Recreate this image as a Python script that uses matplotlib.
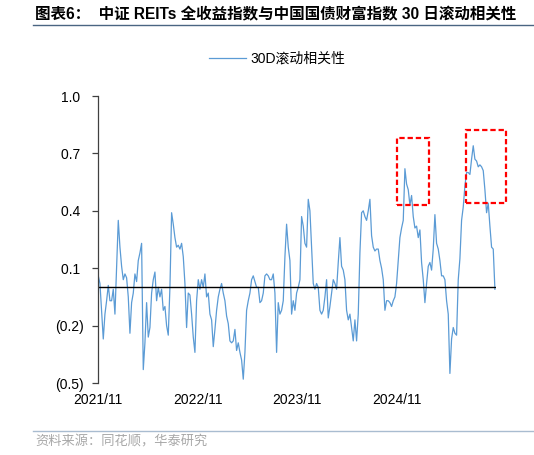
import pandas as pd
import matplotlib.pyplot as plt
import matplotlib.dates as mdates
from matplotlib.patches import Rectangle
from matplotlib.lines import Line2D

plt.rcParams['font.family'] = ['Liberation Sans', 'Noto Sans CJK SC']

# -------------------------
# Data (roughly weekly samples)
# -------------------------
start_date = "2021-11-02"
end_date = "2025-10-24"

corr_30d = [
    0.06, 0.02, -0.13, -0.27, -0.14, -0.07, 0.01, -0.07, -0.07, -0.01,
    -0.14, 0.11, 0.35, 0.21, 0.11, 0.04, 0.07, 0.05, -0.05, -0.24,
    -0.08, -0.03, 0.07, 0.03, 0.14, 0.18, 0.23, -0.43, -0.29, -0.08,
    -0.26, -0.21, -0.03, 0.04, 0.08, -0.07, 0.00, -0.05, -0.01, -0.12,
    -0.10, -0.20, -0.25, 0.00, 0.39, 0.33, 0.26, 0.21, 0.22, 0.20,
    0.23, 0.16, 0.02, -0.21, -0.03, -0.04, -0.14, -0.26, -0.34, -0.07,
    0.04, -0.01, 0.04, 0.00, 0.07, -0.05, -0.03, -0.14, -0.17, -0.31,
    -0.22, -0.12, -0.05, -0.01, 0.02, -0.03, -0.07, -0.15, -0.19, -0.28,
    -0.29, -0.28, -0.22, -0.33, -0.29, -0.34, -0.38, -0.48, -0.34, -0.12,
    -0.07, -0.03, 0.04, 0.06, 0.03, 0.00, 0.00, -0.08, -0.07, -0.03,
    0.06, 0.07, 0.06, 0.04, 0.04, 0.07, -0.03, -0.34, -0.08, -0.14,
    -0.12, -0.07, 0.16, 0.33, 0.21, 0.14, -0.14, -0.07, -0.12, -0.03,
    0.00, 0.04, 0.37, 0.32, 0.23, 0.21, 0.46, 0.40, 0.21, 0.02,
    -0.01, 0.02, 0.00, -0.12, -0.14, -0.12, -0.05, 0.04, -0.16, -0.10,
    -0.03, 0.04, 0.02, -0.01, 0.13, 0.26, 0.11, 0.09, 0.04, -0.12,
    -0.17, -0.14, -0.21, -0.28, -0.17, -0.28, -0.14, 0.18, 0.39, 0.40,
    0.37, 0.35, 0.40, 0.46, 0.27, 0.21, 0.19, 0.20, 0.20, 0.14,
    0.10, 0.04, -0.12, -0.07, -0.07, -0.08, -0.10, -0.07, -0.05, 0.02,
    0.14, 0.26, 0.31, 0.35, 0.62, 0.54, 0.51, 0.43, 0.48, 0.37,
    0.31, 0.32, 0.26, 0.30, 0.13, 0.04, -0.08, 0.02, 0.11, 0.13,
    0.09, 0.20, 0.38, 0.23, 0.20, 0.14, 0.06, 0.06, 0.04, -0.07,
    -0.14, -0.45, -0.27, -0.21, -0.24, -0.25, 0.04, 0.15, 0.35, 0.42,
    0.53, 0.60, 0.60, 0.59, 0.67, 0.74, 0.67, 0.66, 0.63, 0.64,
    0.63, 0.61, 0.51, 0.39, 0.44, 0.32, 0.21, 0.20, -0.01,
]

dates = pd.date_range(start_date, end_date, periods=len(corr_30d))

y_ticks = [-0.5, -0.2, 0.1, 0.4, 0.7, 1.0]
y_labels = ["(0.5)", "(0.2)", "0.1 ", "0.4 ", "0.7 ", "1.0 "]
x_ticks = ["2021-11-01", "2022-11-01", "2023-11-01", "2024-11-01"]
x_labels = ["2021/11", "2022/11", "2023/11", "2024/11"]

# highlighted windows: (start, end, low, high)
boxes = [
    ("2024-10-29", "2025-02-24", 0.43, 0.78),
    ("2025-07-12", "2025-12-03", 0.44, 0.82),
]

# -------------------------
# Plot
# -------------------------
W, H = 534, 455
fig = plt.figure(figsize=(W / 100, H / 100), dpi=100)
ax = fig.add_axes([98 / W, 1 - 383 / H, (496 - 98) / W, (383 - 96) / H])

ax.plot(dates, corr_30d, color="#5B9BD5", lw=0.9, label="30D滚动相关性")
ax.axhline(0, color="black", lw=1.0)

ax.set_ylim(-0.5, 1.0)
ax.set_xlim(pd.Timestamp("2021-11-01"), pd.Timestamp("2025-10-28"))

for s in ["top", "right", "bottom"]:
    ax.spines[s].set_visible(False)
ax.spines["left"].set_color("#404040")
ax.spines["left"].set_linewidth(0.9)

ax.set_yticks(y_ticks)
ax.set_yticklabels(y_labels)
ax.set_xticks(pd.to_datetime(x_ticks))
ax.set_xticklabels(x_labels)
ax.tick_params(axis="y", length=4, width=0.9, color="#404040", pad=6, labelsize=10)
ax.tick_params(axis="x", length=0, pad=7, labelsize=10)

for b0, b1, lo, hi in boxes:
    x0 = mdates.date2num(pd.Timestamp(b0))
    x1 = mdates.date2num(pd.Timestamp(b1))
    ax.add_patch(Rectangle((x0, lo), x1 - x0, hi - lo, fill=False,
                           ec="#FF0000", lw=1.6, ls=(0, (2.4, 1.3)),
                           clip_on=False, zorder=5))

fig.legend(loc="center", bbox_to_anchor=(277 / W, 1 - 59 / H), frameon=False,
           fontsize=10, handlelength=2.7, handletextpad=0.3)

# title, rules and source
fig.text(35 / W, 1 - 15 / H,
         "图表6：  中证 REITs 全收益指数与中国国债财富指数 30 日滚动相关性",
         fontsize=11.2, fontweight="bold", va="center", ha="left")
fig.add_artist(Line2D([33 / W, 1], [1 - 24.5 / H] * 2, color="#4A6582", lw=1.0))
fig.add_artist(Line2D([33 / W, 1], [1 - 430.5 / H] * 2, color="#A9BCD0", lw=1.0))
fig.text(35 / W, 1 - 442 / H, "资料来源：同花顺，华泰研究",
         fontsize=9.5, color="#A8A8A8", va="center", ha="left")

fig.savefig("out.png", dpi=100)
